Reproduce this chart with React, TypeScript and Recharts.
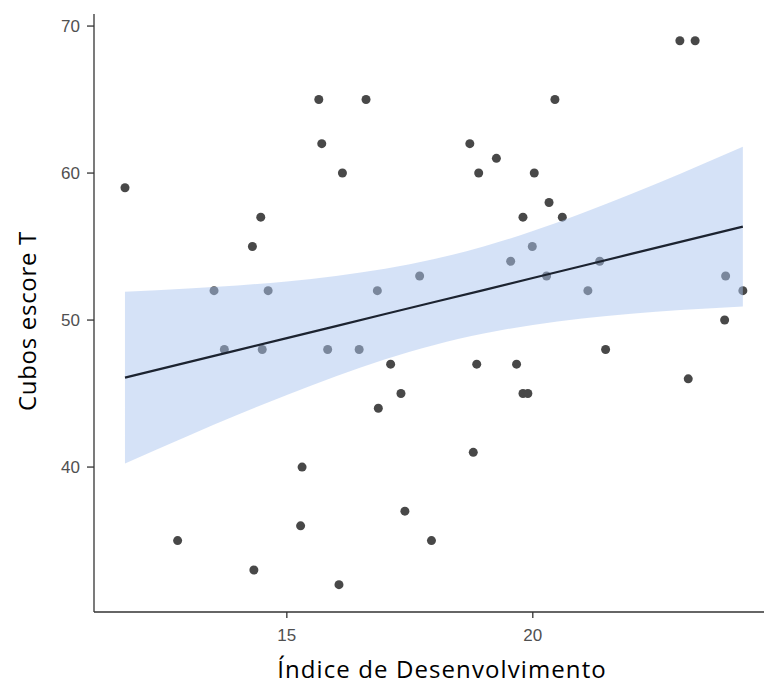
import { ComposedChart, Scatter, Area, Line, XAxis, YAxis, Label } from 'recharts';

// scatter points
const pointX = [
  11.71, 15.65, 16.61, 15.71, 16.13, 14.47, 14.3, 13.52, 14.62, 16.84,
  22.99, 23.3, 20.45, 18.72, 19.26, 18.9, 20.03, 20.33, 19.8, 20.6,
  19.99, 19.55, 17.7, 21.36, 20.28, 23.92, 21.12, 24.27, 23.9, 13.73,
  14.5, 15.83, 16.47, 17.11, 16.86, 17.32, 15.31, 15.28, 12.78, 14.33,
  16.06, 18.86, 19.67, 21.48, 23.16, 19.8, 19.9, 18.79, 17.4, 17.94,
];
const pointY = [
  59, 65, 65, 62, 60, 57, 55, 52, 52, 52,
  69, 69, 65, 62, 61, 60, 60, 58, 57, 57,
  55, 54, 53, 54, 53, 53, 52, 52, 50, 48,
  48, 48, 48, 47, 44, 45, 40, 36, 35, 33,
  32, 47, 47, 48, 46, 45, 45, 41, 37, 35,
];

// fitted line and confidence band
const bandX = [11.71, 13, 14, 15, 16, 17, 18, 19, 20, 21, 22, 23, 24.27];
const bandLow = [40.24, 42.13, 43.55, 44.91, 46.18, 47.33, 48.31, 49.08, 49.67, 50.1, 50.43, 50.68, 50.93];
const bandHigh = [51.92, 52.15, 52.35, 52.63, 53.0, 53.49, 54.15, 55.0, 56.05, 57.26, 58.57, 59.96, 61.79];
const fitY = [46.08, 47.14, 47.95, 48.77, 49.59, 50.41, 51.23, 52.04, 52.86, 53.68, 54.5, 55.32, 56.36];

const xTicks = [15, 20];
const yTicks = [40, 50, 60, 70];

const points = pointX.map((x, i) => ({ x, y: pointY[i] }));
const band = bandX.map((x, i) => ({ x, band: [bandLow[i], bandHigh[i]], fit: fitY[i] }));

const tickStyle = { fontSize: 17, fill: '#505050', fontFamily: 'Liberation Sans, Arial, sans-serif' };
const titleFont = 'Open Sans, sans-serif';

const Dot = (props: any) => <circle cx={props.cx} cy={props.cy} r={4.5} fill="#484848" />;

export default function App() {
  return (
    <div style={{ position: 'absolute', left: 0, top: 0, width: 764, height: 690, background: '#fff' }}>
      <ComposedChart width={764} height={690} data={band} margin={{ top: 14, right: 0, bottom: 0, left: 0 }}>
        <XAxis
          type="number"
          dataKey="x"
          domain={[11.08, 24.7]}
          ticks={xTicks}
          allowDataOverflow
          height={78}
          tickSize={6}
          tickMargin={11}
          tick={tickStyle}
          axisLine={{ stroke: '#333', strokeWidth: 1.3 }}
          tickLine={{ stroke: '#333', strokeWidth: 1.3 }}
        >
          <Label
            content={() => (
              <text x={442} y={678} textAnchor="middle" fontSize={24} letterSpacing={1.1} fontFamily={titleFont} fill="#000">
                Índice de Desenvolvimento
              </text>
            )}
          />
        </XAxis>
        <YAxis
          type="number"
          domain={[30.14, 70.82]}
          ticks={yTicks}
          allowDataOverflow
          width={94}
          tickSize={7}
          tickMargin={7}
          tick={tickStyle}
          axisLine={{ stroke: '#333', strokeWidth: 1.3 }}
          tickLine={{ stroke: '#333', strokeWidth: 1.3 }}
        >
          <Label
            content={() => (
              <text
                x={36}
                y={321}
                transform="rotate(-90 36 321)"
                textAnchor="middle"
                fontSize={24}
                letterSpacing={0.7}
                fontFamily={titleFont}
                fill="#000"
              >
                Cubos escore T
              </text>
            )}
          />
        </YAxis>
        <Scatter data={points} dataKey="y" shape={Dot} isAnimationActive={false} zIndex={300} />
        <Area
          type="monotone"
          dataKey="band"
          fill="#acc5f0"
          fillOpacity={0.5}
          stroke="none"
          isAnimationActive={false}
          activeDot={false}
          zIndex={650}
        />
        <Line
          type="linear"
          dataKey="fit"
          stroke="#1c2330"
          strokeWidth={2.2}
          dot={false}
          activeDot={false}
          isAnimationActive={false}
          zIndex={700}
        />
      </ComposedChart>
    </div>
  );
}
